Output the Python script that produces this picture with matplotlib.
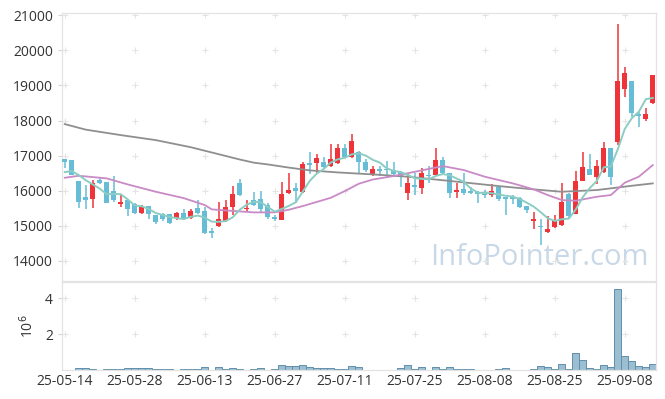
import numpy as np
import pandas as pd
import matplotlib
matplotlib.use('Agg')
import matplotlib.pyplot as plt

plt.rcParams['font.family'] = ['Open Sans', 'DejaVu Sans']

# trading days (KRX holidays removed)
holidays = ['2025-06-03', '2025-06-06', '2025-08-15']
days = pd.bdate_range('2025-05-14', '2025-09-12')
days = days[~days.isin(pd.to_datetime(holidays))]

opens = [16902, 16870, 16276, 15810, 15763, 16304, 16247, 15991, 15621, 15735,
         15621, 15365, 15564, 15308, 15337, 15337, 15223, 15365, 15223, 15507,
         15422, 14861, 14995, 15137, 15536, 16219, 15470, 15735, 15754, 15593,
         15260, 15166, 15925, 16077, 15967, 16796, 16790, 16820, 16705, 16780,
         17220, 16950, 17105, 16825, 16475, 16610, 16605, 16600, 16540, 15925,
         16162, 16067, 16450, 16446, 16873, 16494, 15970, 16039, 16000, 15963,
         15963, 15868, 16096, 15810, 15830, 15783, 15564, 15146, 14995, 14833,
         14976, 15024, 15900, 15340, 16290, 16617, 16400, 16520, 17223, 17380,
         18890, 19125, 18175, 18040, 18504]
highs = [16910, 16890, 16290, 16162, 16304, 16361, 16260, 16418, 15877, 15750,
         15640, 15593, 15580, 15320, 15370, 15350, 15400, 15479, 15479, 15735,
         15544, 14938, 15687, 15735, 16133, 16333, 15735, 15972, 16000, 15650,
         15300, 16257, 16494, 16219, 16810, 17090, 17044, 16960, 17340, 17340,
         17340, 17610, 17130, 16900, 16700, 16700, 16840, 16825, 16560, 16494,
         16494, 16637, 16694, 17206, 16967, 16500, 16219, 16494, 16100, 15980,
         16020, 16190, 16110, 15830, 15880, 15830, 15580, 15400, 15185, 15280,
         15308, 16228, 15940, 16560, 17100, 17040, 16873, 17395, 17230, 20740,
         19525, 19130, 18250, 18370, 19290]
lows = [16646, 16440, 15507, 15470, 15507, 16190, 15640, 15678, 15536, 15280,
        15340, 15337, 15194, 15052, 15150, 15060, 15166, 15166, 15200, 15340,
        14780, 14653, 14960, 15100, 15308, 15860, 15420, 15560, 15400, 15190,
        15150, 15160, 15900, 15660, 15940, 16490, 16503, 16650, 16690, 16760,
        16930, 16940, 16500, 16530, 16418, 16430, 16400, 16430, 16113, 15735,
        15877, 15900, 16210, 16440, 16480, 15783, 15792, 15880, 15900, 15660,
        15800, 15820, 15720, 15308, 15620, 15520, 15356, 14900, 14454, 14800,
        14946, 15000, 15213, 15330, 16280, 16440, 16200, 16500, 16162, 17300,
        18665, 18106, 17805, 18000, 18480]
closes = [16825, 16446, 15678, 15735, 16219, 16219, 15650, 15735, 15678, 15479,
          15365, 15536, 15337, 15109, 15194, 15090, 15365, 15223, 15422, 15365,
          14796, 14796, 15194, 15536, 15906, 15877, 15516, 15593, 15470, 15242,
          15204, 15906, 16020, 15991, 16764, 16739, 16935, 16683, 16900, 17220,
          16960, 17423, 16825, 16580, 16612, 16575, 16590, 16470, 16400, 16228,
          16096, 16494, 16420, 16873, 16494, 15925, 16020, 15943, 15943, 15906,
          15868, 15991, 15754, 15773, 15773, 15545, 15450, 15194, 14976, 14919,
          15166, 15687, 15285, 16280, 16680, 16456, 16703, 17223, 16400, 19125,
          19358, 18225, 18135, 18200, 19290]
# four closes before the window, needed for the 5-day average
pre_closes = [16306, 16248, 16465, 16816]

# volume in millions of shares
volumes = [0.02, 0.02, 0.13, 0.13, 0.07, 0.02, 0.07, 0.07, 0.07, 0.13,
           0.13, 0.13, 0.13, 0.07, 0.07, 0.07, 0.02, 0.07, 0.07, 0.07,
           0.19, 0.02, 0.19, 0.07, 0.13, 0.07, 0.02, 0.07, 0.13, 0.02,
           0.07, 0.30, 0.24, 0.24, 0.30, 0.19, 0.13, 0.13, 0.13, 0.07,
           0.07, 0.24, 0.19, 0.02, 0.02, 0.02, 0.02, 0.02, 0.13, 0.30,
           0.07, 0.19, 0.02, 0.19, 0.07, 0.19, 0.07, 0.07, 0.07, 0.02,
           0.02, 0.02, 0.07, 0.13, 0.02, 0.02, 0.02, 0.07, 0.24, 0.19,
           0.07, 0.35, 0.07, 0.92, 0.58, 0.13, 0.07, 0.30, 0.19, 4.50,
           0.75, 0.52, 0.24, 0.19, 0.35]

# 20-day and 120-day averages at some days
ma20_idx = [0, 2, 6, 9, 13, 17, 20, 21, 23, 27, 30, 32, 34, 38, 40, 42, 44, 47,
            50, 54, 57, 60, 64, 67, 69, 71, 73, 76, 78, 80, 82, 84]
ma20_val = [16370, 16427, 16352, 16180, 15972, 15790, 15593, 15470, 15440, 15384,
            15384, 15460, 15564, 15800, 15991, 16200, 16320, 16420, 16540, 16703,
            16589, 16400, 16210, 16040, 15877, 15735, 15716, 15830, 15877, 16230,
            16400, 16731]
ma120_idx = [0, 3, 8, 13, 18, 23, 25, 27, 29, 32, 35, 39, 44, 49, 54, 57, 62, 67,
             71, 76, 81, 84]
ma120_val = [17898, 17740, 17585, 17442, 17240, 16990, 16890, 16800, 16750, 16660,
             16580, 16522, 16466, 16400, 16300, 16238, 16133, 16039, 15972, 16020,
             16142, 16210]

UP = '#ee3438'
DOWN = '#67bdd6'

x = np.arange(len(days))
o = np.array(opens)
c = np.array(closes)
up = c >= o
colors = np.where(up, UP, DOWN)
ma5 = pd.Series(pre_closes + closes).rolling(5).mean().to_numpy()[4:]

fig = plt.figure(figsize=(6.65, 3.99), dpi=100)
ax = fig.add_axes([0.0932, 0.2957, 0.8932, 0.6713])
axv = fig.add_axes([0.0932, 0.0727, 0.8932, 0.2205], sharex=ax)

ax.text(0.987, 0.035, 'InfoPointer.com', transform=ax.transAxes, ha='right',
        va='bottom', fontsize=21, color='#c9d8e6', zorder=0)

xt = np.arange(0, len(days), 10)
yt = np.arange(14000, 21001, 1000)
gx, gy = np.meshgrid(xt, yt)
ax.scatter(gx.ravel(), gy.ravel(), marker='+', s=20, color='#e4e4e4', lw=0.8, zorder=0)

ax.vlines(x, lows, highs, color=colors, lw=1.1, zorder=2)
body = np.maximum(np.abs(c - o), 25)
ax.bar(x, body, bottom=np.minimum(o, c), width=0.72, color=colors, zorder=3)

ax.plot(ma120_idx, ma120_val, color='#8f8f8f', lw=1.3, zorder=4)
ax.plot(ma20_idx, ma20_val, color='#c98ac6', lw=1.3, zorder=4)
ax.plot(x, ma5, color='#8ccdc3', lw=1.4, zorder=4)

ax.set_xlim(-0.4, len(days) - 0.55)
ax.set_ylim(13430, 21057)
ax.set_yticks(yt)
ax.tick_params(axis='x', bottom=False, labelbottom=False)
ax.tick_params(axis='y', length=3, color='#d5d5d5', labelsize=10, labelcolor='#333333')

gx2, gy2 = np.meshgrid(xt, [2, 4])
axv.scatter(gx2.ravel(), gy2.ravel(), marker='+', s=20, color='#e4e4e4', lw=0.8, zorder=0)
axv.bar(x, volumes, width=1.0, color='#9bbfd0', edgecolor='#5f8fae', lw=0.7, zorder=2)
axv.set_ylim(0, 4.89)
axv.set_yticks([2, 4])
axv.set_xticks(xt)
axv.set_xticklabels([d.strftime('%y-%m-%d') for d in days[xt]])
axv.tick_params(axis='x', length=0, labelsize=10, labelcolor='#333333', pad=3)
axv.tick_params(axis='y', length=3, color='#d5d5d5', labelsize=10, labelcolor='#333333')
axv.set_ylabel('10$^6$', fontsize=10, color='#333333', labelpad=6)

for a in (ax, axv):
    for s in a.spines.values():
        s.set_color('#e3e3e3')
        s.set_linewidth(0.9)

fig.savefig('out.png', dpi=100)
